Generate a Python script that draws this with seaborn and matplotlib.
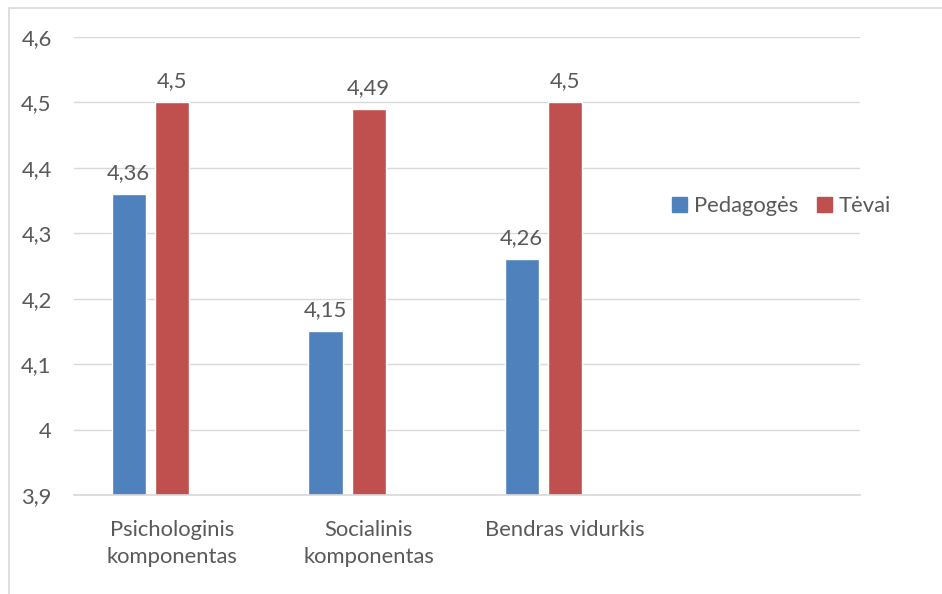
import pandas as pd
import matplotlib
matplotlib.use("Agg")
import matplotlib.pyplot as plt
import seaborn as sns
from matplotlib.patches import Rectangle

categories = ["Psichologinis\nkomponentas", "Socialinis\nkomponentas", "Bendras vidurkis"]
pedagoges = [4.36, 4.15, 4.26]
tevai = [4.5, 4.49, 4.5]
series = ["Pedagogės", "Tėvai"]
y_ticks = [3.9, 4.0, 4.1, 4.2, 4.3, 4.4, 4.5, 4.6]

colors = {"Pedagogės": "#4f81bd", "Tėvai": "#c0504d", " ": "#ffffff"}
text_col = "#595959"
fs = 15.8

df = pd.DataFrame({
    "cat": categories * 2,
    "group": [series[0]] * 3 + [series[1]] * 3,
    "value": pedagoges + tevai,
})

sns.set_theme(style="white")
plt.rcParams["font.family"] = ["Lato", "DejaVu Sans"]

fig = plt.figure(figsize=(9.42, 5.94), dpi=100)
ax = fig.add_axes([74 / 942, 99 / 594, 786 / 942, 458 / 594])

# empty 4th category and empty 3rd series, like the Excel original
order = categories + ["  "]
hue_order = series + [" "]
sns.barplot(data=df, x="cat", y="value", hue="group", order=order,
            hue_order=hue_order, palette=colors, width=0.664, gap=0.207,
            ax=ax, legend=False, saturation=1, bottom=0)

ax.set_ylim(3.9, 4.6)
ax.set_xlim(-0.5, 3.5)
ax.set_yticks(y_ticks)
ax.set_yticklabels([f"{t:g}".replace(".", ",") for t in y_ticks])
ax.yaxis.grid(True, color="#d9d9d9", linewidth=1)
ax.set_axisbelow(True)
for s in ax.spines.values():
    s.set_visible(False)
ax.spines["bottom"].set_visible(True)
ax.spines["bottom"].set_color("#d9d9d9")
ax.set_xlabel("")
ax.set_ylabel("")
ax.set_xticks(range(len(categories)))
ax.set_xticklabels(categories, linespacing=1.45)
ax.tick_params(axis="both", length=0, labelsize=fs, colors=text_col)
ax.tick_params(axis="x", pad=18)
ax.tick_params(axis="y", pad=16)
for lab in ax.get_yticklabels():
    lab.set_color(text_col)
for lab in ax.get_xticklabels():
    lab.set_color(text_col)

for cont in ax.containers[:2]:
    labels = [f"{v:g}".replace(".", ",") for v in cont.datavalues]
    ax.bar_label(cont, labels=labels, padding=8, fontsize=fs, color=text_col)

handles = [Rectangle((0, 0), 1, 1, color=colors[s]) for s in series]
fig.legend(handles, series, loc="center left", bbox_to_anchor=(652 / 942, 1 - 206 / 594),
           ncol=2, frameon=False, fontsize=fs, labelcolor=text_col,
           handlelength=0.7, handleheight=0.7, handletextpad=0.3, columnspacing=0.85)

# chart border (only top and left edges visible in the crop)
fig.patches.append(Rectangle((8.5 / 942, -0.1), 1.2, 1.1 - 8.5 / 594,
                             transform=fig.transFigure, fill=False,
                             edgecolor="#d9d9d9", linewidth=1.2))

fig.savefig("out.png", dpi=100, facecolor="white")
